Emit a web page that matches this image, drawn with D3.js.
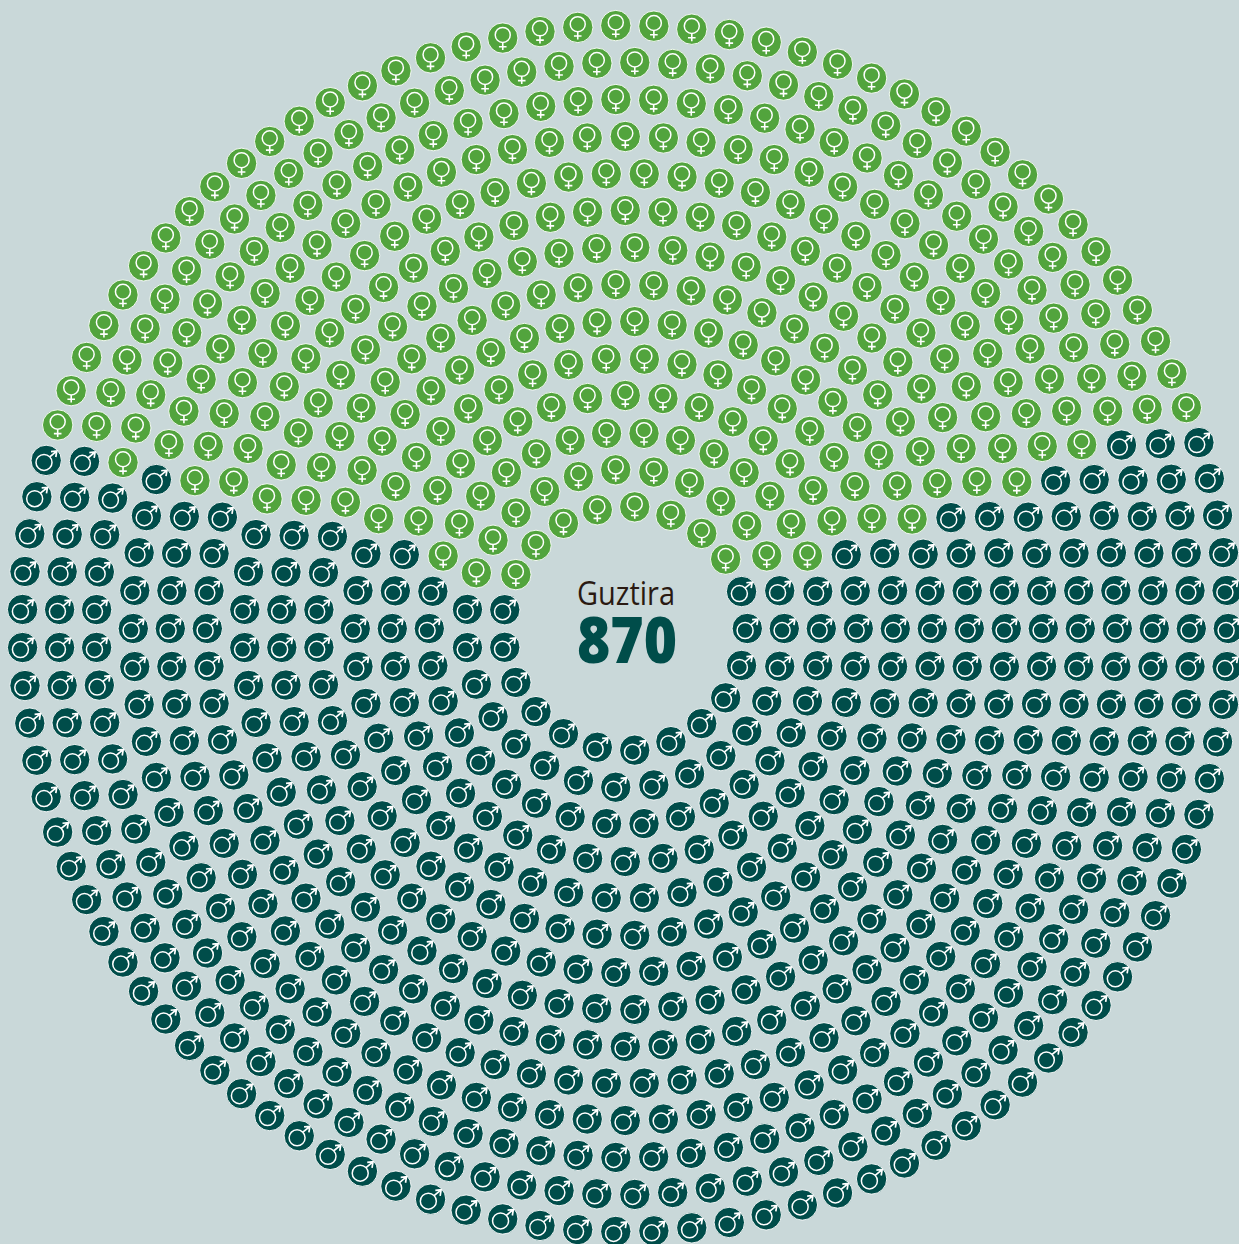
<!DOCTYPE html>
<html><head><meta charset="utf-8">
<script src="https://cdnjs.cloudflare.com/ajax/libs/d3/7.8.5/d3.min.js"></script>
<style>html,body{margin:0;padding:0;background:#c9d8d9;overflow:hidden}svg{display:block}</style>
</head><body><div id="c"></div>
<script>
const ringCounts   = [21,27,34,40,46,53,59,65,72,78,84,91,97,103];
const firstFemale  = [2,2,2,3,3,3,4,4,4,5,5,6,6,6];
const femaleCounts = [8,11,14,15,18,21,23,26,29,31,33,36,38,41];
const totalLabel = "Guztira";
const totalValue = 870;
const colors = {female:"#52a43d", male:"#004d4a"};

const W=1239,H=1244,cx=625.3,cy=628.5;
const svg=d3.select("#c").append("svg").attr("width",W).attr("height",H);
svg.append("rect").attr("width",W).attr("height",H).attr("fill","#c9d8d9");
const radius=d3.scaleLinear().domain([0,ringCounts.length-1]).range([122,603]);

const units=ringCounts.flatMap((n,i)=>d3.range(n).map(k=>{
  const a0=d3.scaleLinear().domain([0,n]).range([0,2*Math.PI])(k);
  const a=a0+0.009*Math.sin(4*a0);
  const f=k>=firstFemale[i]&&k<firstFemale[i]+femaleCounts[i];
  return {x:cx+radius(i)*Math.cos(a),y:cy-radius(i)*Math.sin(a),f};
}));
const g=svg.selectAll("g.u").data(units).join("g").attr("class","u")
  .attr("transform",d=>`translate(${d.x},${d.y})`);
g.append("circle").attr("r",15.2).attr("fill",d=>d.f?colors.female:colors.male)
  .attr("stroke","#fff").attr("stroke-width",0.9);
g.filter(d=>d.f).append("circle").attr("cy",-3.2).attr("r",7.5).attr("fill","none").attr("stroke","#fff").attr("stroke-width",1.5);
g.filter(d=>d.f).append("path").attr("d","M0,4.4V12M-3.8,8.6H3.8").attr("fill","none").attr("stroke","#fff").attr("stroke-width",1.6);
g.filter(d=>!d.f).append("circle").attr("cx",-2.2).attr("cy",2).attr("r",8).attr("fill","none").attr("stroke","#fff").attr("stroke-width",1.5);
g.filter(d=>!d.f).append("path").attr("d","M3.6,-3.6L10.2,-9M4.8,-8.8L10.6,-9.4L9.6,-3.4").attr("fill","none").attr("stroke","#fff").attr("stroke-width",1.7);

svg.append("text").attr("x",626).attr("y",605).attr("text-anchor","middle")
  .attr("font-family","'Open Sans',sans-serif").attr("font-size",33).attr("fill","#2a1a12")
  .attr("textLength",98).attr("lengthAdjust","spacingAndGlyphs").text(totalLabel);
svg.append("text").attr("x",627).attr("y",663).attr("text-anchor","middle")
  .attr("font-family","'Open Sans',sans-serif").attr("font-weight",800).attr("font-size",63).attr("fill",colors.male)
  .attr("textLength",100).attr("lengthAdjust","spacingAndGlyphs").text(totalValue);
</script></body></html>
